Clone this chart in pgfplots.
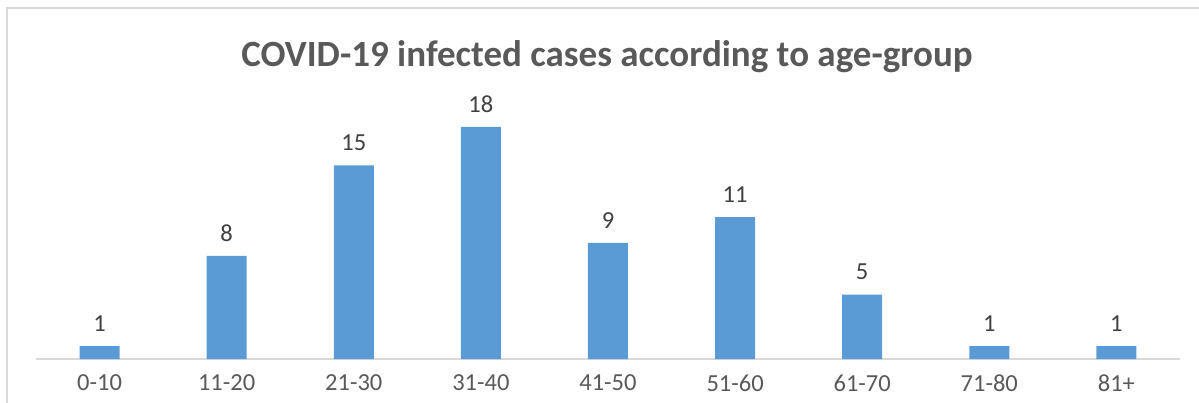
\documentclass[border=0pt]{standalone}
\usepackage{fontspec}
\setmainfont{Carlito}
\usepackage{pgfplots}
\pgfplotsset{compat=1.18}
\definecolor{barblue}{HTML}{5B9BD5}
\definecolor{txtgray}{HTML}{595959}
\definecolor{lblgray}{HTML}{404040}
\definecolor{linegray}{HTML}{D9D9D9}
\begin{document}
\begin{tikzpicture}[x=1pt,y=1pt]
\useasboundingbox (0,0) rectangle (1199,402);
\begin{scope}
  \clip (0,0) rectangle (1199,402);
  \draw[linegray, line width=1.5pt] (7,-30) rectangle (1240,394);
\end{scope}
\node[font=\fontsize{37}{41}\selectfont\bfseries, text=txtgray] at (607,345)
  {COVID-19 infected cases according to age-group};
\begin{axis}[
  at={(36pt,43pt)}, anchor=south west,
  scale only axis, width=1144pt, height=258pt,
  xmin=-0.5, xmax=8.5, ymin=0, ymax=20,
  axis x line=bottom, axis y line=none,
  x axis line style={-, linegray, line width=1.5pt},
  ytick=\empty,
  xtick=data,
  xticklabels={0-10,11-20,21-30,31-40,41-50,51-60,61-70,71-80,81+},
  major tick length=0pt,
  xticklabel style={font=\fontsize{24.5}{28}\selectfont, text=txtgray, yshift=-12pt},
  /pgf/number format/assume math mode=true,
  clip=false,
  ybar, bar width=40pt, bar shift=0pt,
  nodes near coords,
  every node near coord/.append style={font=\fontsize{24.5}{28}\selectfont, text=lblgray, yshift=11pt},
]
\addplot[fill=barblue, draw=none] coordinates {
  (0,1) (1,8) (2,15) (3,18) (4,9) (5,11) (6,5) (7,1) (8,1)
};
\end{axis}
\end{tikzpicture}
\end{document}
